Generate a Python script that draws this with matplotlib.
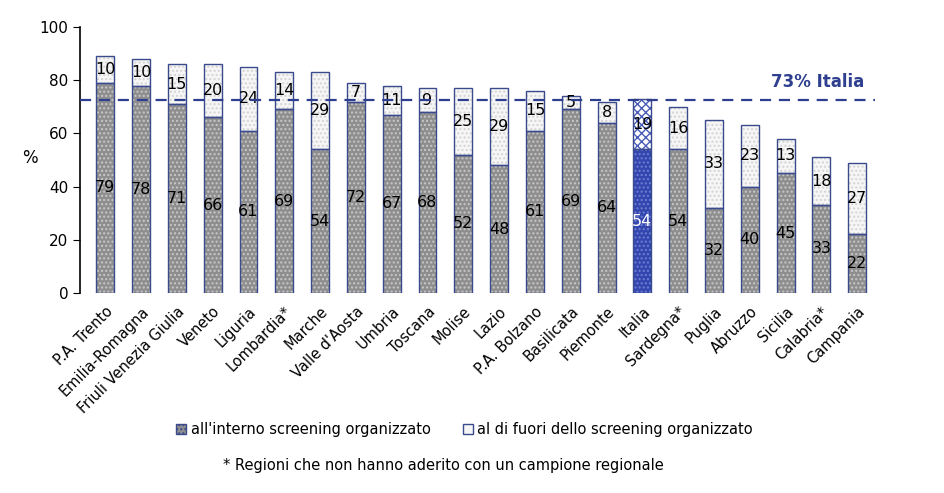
import matplotlib
matplotlib.use("Agg")
import matplotlib.pyplot as plt
import numpy as np
from matplotlib.patches import Patch

categories = ["P.A. Trento", "Emilia-Romagna", "Friuli Venezia Giulia", "Veneto", "Liguria",
              "Lombardia*", "Marche", "Valle d'Aosta", "Umbria", "Toscana", "Molise", "Lazio",
              "P.A. Bolzano", "Basilicata", "Piemonte", "Italia", "Sardegna*", "Puglia",
              "Abruzzo", "Sicilia", "Calabria*", "Campania"]
inside = [79, 78, 71, 66, 61, 69, 54, 72, 67, 68, 52, 48, 61, 69, 64, 54, 54, 32, 40, 45, 33, 22]
outside = [10, 10, 15, 20, 24, 14, 29, 7, 11, 9, 25, 29, 15, 5, 8, 19, 16, 33, 23, 13, 18, 27]
italia_ref = 72.5
italia_label = "73% Italia"
legend_labels = ["all'interno screening organizzato", "al di fuori dello screening organizzato"]
footnote = "* Regioni che non hanno aderito con un campione regionale"

navy = "#3a4a8c"
fig = plt.figure(figsize=(9.44, 4.93), dpi=100)
ax = fig.add_axes([0.085, 0.406, 0.842, 0.539])

x = np.arange(len(categories))
w = 0.5
it = categories.index("Italia")
for i in x:
    if i == it:
        ax.bar(i, inside[i], w, color="#3346b0", hatch="....", edgecolor="#6f7fd0", linewidth=0)
        ax.bar(i, outside[i], w, bottom=inside[i], color="#ffffff", hatch="xxxx", edgecolor="#4a5cb8", linewidth=0)
    else:
        ax.bar(i, inside[i], w, color="#8e8e8e", hatch="....", edgecolor="#c8c8c8", linewidth=0)
        ax.bar(i, outside[i], w, bottom=inside[i], color="#f6f6f6", hatch="....", edgecolor="#d4d4d4", linewidth=0)
    ax.bar(i, inside[i], w, fill=False, edgecolor=navy, linewidth=1.0)
    ax.bar(i, outside[i], w, bottom=inside[i], fill=False, edgecolor=navy, linewidth=1.0)
    ax.text(i, inside[i] / 2, str(inside[i]), ha="center", va="center", fontsize=11.5,
            color="white" if i == it else "black")
    ax.text(i, inside[i] + outside[i] / 2, str(outside[i]), ha="center", va="center", fontsize=11.5,
            color="black")

ax.axhline(italia_ref, color="#2e3f8f", linestyle=(0, (5, 3.5)), linewidth=1.6, zorder=5)
ax.text(19.9, italia_ref + 3.5, italia_label, ha="center", va="bottom", fontsize=12,
        fontweight="bold", color="#2e3f8f")

ax.set_xlim(-0.7, 21.5)
ax.set_ylim(0, 100)
ax.set_yticks([0, 20, 40, 60, 80, 100])
ax.tick_params(axis="y", labelsize=11, length=5, direction="out")
ax.set_xticks(x)
ax.set_xticklabels(categories, rotation=45, ha="right", rotation_mode="anchor", fontsize=10.5)
ax.tick_params(axis="x", length=0, pad=8)
for s in ["top", "right", "bottom"]:
    ax.spines[s].set_visible(False)
ax.spines["left"].set_linewidth(1.2)
fig.text(0.032, 0.68, "%", fontsize=12, ha="center", va="center")

h1 = Patch(facecolor="#8e8e8e", edgecolor=navy, hatch="....")
h2 = Patch(facecolor="#f6f6f6", edgecolor=navy)
fig.legend([h1, h2], legend_labels, loc="center", bbox_to_anchor=(0.492, 0.128), ncol=2,
           frameon=False, fontsize=10.5, handlelength=0.7, handleheight=0.7, handletextpad=0.3,
           columnspacing=2.2)
fig.text(0.47, 0.056, footnote, ha="center", va="center", fontsize=10.5)

fig.savefig("out.png", dpi=100)
